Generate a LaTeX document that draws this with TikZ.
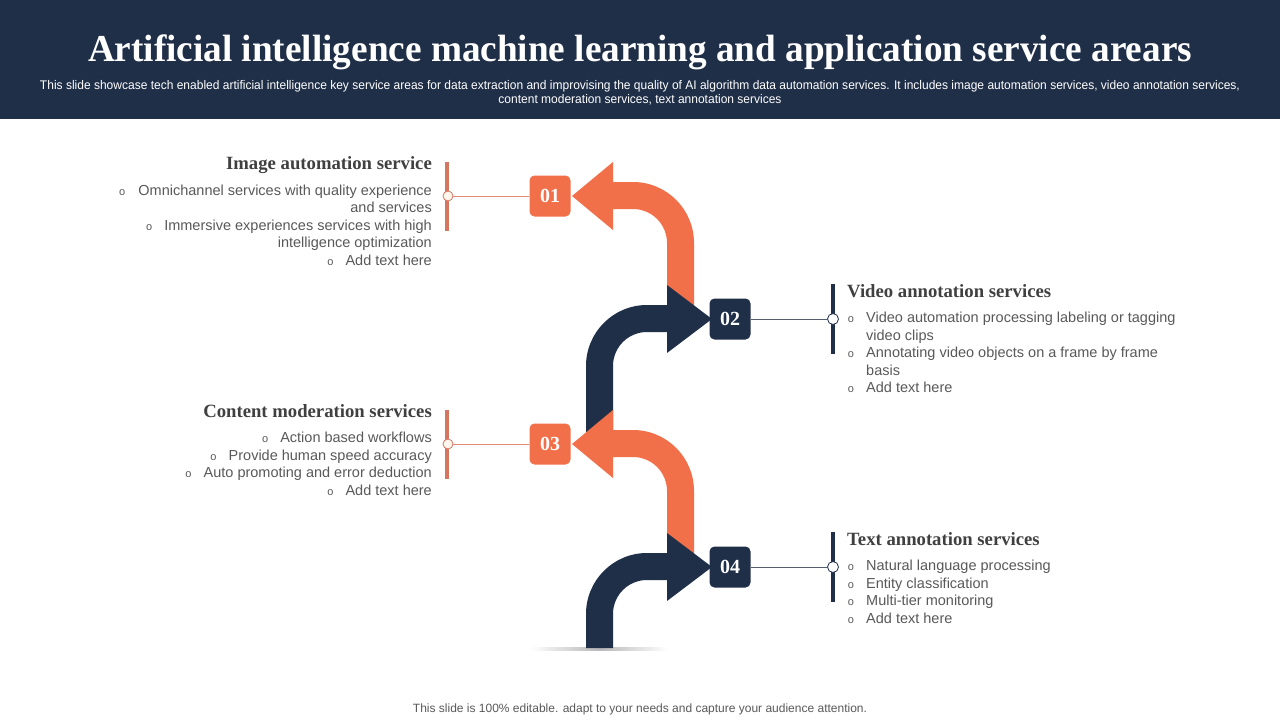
\documentclass[tikz,border=0pt]{standalone}
\usepackage{fontspec}
\setmainfont{Liberation Serif}
\setsansfont{Liberation Sans}
\usepackage{graphicx}
\definecolor{navy}{RGB}{32,47,72}
\definecolor{myorange}{RGB}{241,112,74}
\definecolor{barorange}{RGB}{214,118,96}
\definecolor{lineorange}{RGB}{226,140,118}
\definecolor{cream}{RGB}{255,246,238}
\definecolor{rlinecol}{RGB}{84,94,110}
\definecolor{headgray}{RGB}{64,64,64}
\definecolor{bodygray}{RGB}{89,89,89}
\newsavebox\fitbox
\newlength\fitlen
\newcommand\fitx[2]{\sbox\fitbox{#2}\setlength\fitlen{\wd\fitbox}\pgfmathsetmacro\fitscale{#1/\fitlen}\global\let\lastfitscale\fitscale\scalebox{\fitscale}[1]{\usebox\fitbox}}
\tikzset{
  numbox/.style={minimum size=41pt, inner sep=0pt, rounded corners=5pt, text=white, font=\rmfamily\bfseries\fontsize{20}{20}\selectfont},
  headL/.style={anchor=base east, inner sep=0pt, text=headgray, font=\rmfamily\bfseries\fontsize{18.7}{18.7}\selectfont},
  headR/.style={anchor=base west, inner sep=0pt, text=headgray, font=\rmfamily\bfseries\fontsize{18.7}{18.7}\selectfont},
  bodyL/.style={anchor=base east, inner sep=0pt, text=bodygray, font=\sffamily\fontsize{14.5}{14.5}\selectfont},
  bodyR/.style={anchor=base west, inner sep=0pt, text=bodygray, font=\sffamily\fontsize{14.5}{14.5}\selectfont},
  bul/.style={anchor=base, inner sep=0pt, text=bodygray, font=\sffamily\fontsize{11}{11}\selectfont},
  lcirc/.style={circle, draw=barorange, fill=cream, line width=0.8pt, minimum size=10pt, inner sep=0pt},
  rcirc/.style={circle, draw=navy, fill=white, line width=0.8pt, minimum size=11pt, inner sep=0pt},
  lbar/.style={draw=barorange, line width=3.5pt},
  rbar/.style={draw=navy, line width=3.5pt},
  lline/.style={draw=lineorange, line width=1pt},
  rline/.style={draw=rlinecol, line width=1pt},
}
\begin{document}
\begin{tikzpicture}[x=1pt,y=-1pt]
\useasboundingbox (0,0) rectangle (1280,720);
\fill[white] (0,0) rectangle (1280,720);
% header
\fill[navy] (0,0) rectangle (1280,119);
\node[anchor=base, inner sep=0pt, text=white] (title) at (640,61)
  {\fitx{1104}{\rmfamily\bfseries\fontsize{38}{38}\selectfont Artificial intelligence machine learning and application service arears}};
\node[anchor=base, inner sep=0pt, text=white] (sub1) at (640,89)
  {\fitx{1200}{\sffamily\fontsize{12.5}{12.5}\selectfont This slide showcase tech enabled artificial intelligence key service areas for data extraction and improvising the quality of AI algorithm data automation services. It includes image automation services, video annotation services,}};
\node[anchor=base, inner sep=0pt, text=white] (sub2) at (640,103)
  {\scalebox{\lastfitscale}[1]{\sffamily\fontsize{12.5}{12.5}\selectfont content moderation services, text annotation services}};

% arrows
\fill[myorange] (694,312) -- (694,243) arc[start angle=0, end angle=-90, radius=61] -- (613,182) -- (613,162) -- (572,196) -- (613,230) -- (613,209) -- (633,209) arc[start angle=-90, end angle=0, radius=34] -- (667,312) -- cycle;
\fill[navy] (586,440) -- (586,366) arc[start angle=180, end angle=270, radius=61] -- (667,305) -- (667,285) -- (712,319) -- (667,353) -- (667,332) -- (647,332) arc[start angle=270, end angle=180, radius=34] -- (613,440) -- cycle;
\fill[myorange] (694,560) -- (694,491) arc[start angle=0, end angle=-90, radius=61] -- (613,430) -- (613,410) -- (572,444) -- (613,478) -- (613,457) -- (633,457) arc[start angle=-90, end angle=0, radius=34] -- (667,560) -- cycle;
\shade[left color=white, right color=white, middle color=black!28] (530,647) rectangle (668,650);
\fill[navy] (586,648) -- (586,614) arc[start angle=180, end angle=270, radius=61] -- (667,553) -- (667,533) -- (712,567) -- (667,601) -- (667,580) -- (647,580) arc[start angle=270, end angle=180, radius=34] -- (613,648) -- cycle;

% number boxes
\node[numbox, fill=myorange] (n1) at (550,196) {01};
\node[numbox, fill=navy] (n2) at (730,319) {02};
\node[numbox, fill=myorange] (n3) at (550,444) {03};
\node[numbox, fill=navy] (n4) at (730,567) {04};

% connectors left
\coordinate (b1t) at (447,162); \coordinate (b1b) at (447,231);
\draw[lbar] (b1t) -- (b1b);
\node[lcirc] (c1) at (448,196) {};
\draw[lline] (n1.west) -- (c1.east);
\coordinate (b3t) at (447,410); \coordinate (b3b) at (447,479);
\draw[lbar] (b3t) -- (b3b);
\node[lcirc] (c3) at (448,444) {};
\draw[lline] (n3.west) -- (c3.east);
% connectors right
\coordinate (b2t) at (833,284); \coordinate (b2b) at (833,354);
\draw[rbar] (b2t) -- (b2b);
\node[rcirc] (c2) at (833,319) {};
\draw[rline] (n2.east) -- (c2.west);
\coordinate (b4t) at (833,532); \coordinate (b4b) at (833,602);
\draw[rbar] (b4t) -- (b4b);
\node[rcirc] (c4) at (833,567) {};
\draw[rline] (n4.east) -- (c4.west);

% block 1
\node[headL] (h1) at (432,169) {Image automation service};
\node[bodyL] (t1a) at (432,195) {Omnichannel services with quality experience};
\node[bul] (o1a) at ([xshift=-16pt]t1a.base west) {o};
\node[bodyL] (t1b) at (432,212.5) {and services};
\node[bodyL] (t1c) at (432,230) {Immersive experiences services with high};
\node[bul] (o1c) at ([xshift=-15pt]t1c.base west) {o};
\node[bodyL] (t1d) at (432,247.5) {intelligence optimization};
\node[bodyL] (t1e) at (432,265) {Add text here};
\node[bul] (o1e) at ([xshift=-15pt]t1e.base west) {o};

% block 2
\node[headR] (h2) at (847,297) {Video annotation services};
\node[bodyR] (t2a) at (866,322.5) {Video automation processing labeling or tagging};
\node[bul] (o2a) at ([xshift=-15pt]t2a.base west) {o};
\node[bodyR] (t2b) at (866,340) {video clips};
\node[bodyR] (t2c) at (866,357.5) {Annotating video objects on a frame by frame};
\node[bul] (o2c) at ([xshift=-15pt]t2c.base west) {o};
\node[bodyR] (t2d) at (866,375) {basis};
\node[bodyR] (t2e) at (866,392.5) {Add text here};
\node[bul] (o2e) at ([xshift=-15pt]t2e.base west) {o};

% block 3
\node[headL] (h3) at (432,417) {Content moderation services};
\node[bodyL] (t3a) at (432,442.5) {Action based workflows};
\node[bul] (o3a) at ([xshift=-15pt]t3a.base west) {o};
\node[bodyL] (t3b) at (432,460) {Provide human speed accuracy};
\node[bul] (o3b) at ([xshift=-15pt]t3b.base west) {o};
\node[bodyL] (t3c) at (432,477.5) {Auto promoting and error deduction};
\node[bul] (o3c) at ([xshift=-15pt]t3c.base west) {o};
\node[bodyL] (t3d) at (432,495) {Add text here};
\node[bul] (o3d) at ([xshift=-15pt]t3d.base west) {o};

% block 4
\node[headR] (h4) at (847,545) {Text annotation services};
\node[bodyR] (t4a) at (866,570.5) {Natural language processing};
\node[bul] (o4a) at ([xshift=-15pt]t4a.base west) {o};
\node[bodyR] (t4b) at (866,588) {Entity classification};
\node[bul] (o4b) at ([xshift=-15pt]t4b.base west) {o};
\node[bodyR] (t4c) at (866,605.5) {Multi-tier monitoring};
\node[bul] (o4c) at ([xshift=-15pt]t4c.base west) {o};
\node[bodyR] (t4d) at (866,623) {Add text here};
\node[bul] (o4d) at ([xshift=-15pt]t4d.base west) {o};

% footer
\node[anchor=base, inner sep=0pt, text=bodygray, font=\sffamily\fontsize{12}{12}\selectfont] (ft) at (640,712) {This slide is 100\% editable. adapt to your needs and capture your audience attention.};
\end{tikzpicture}
\end{document}
